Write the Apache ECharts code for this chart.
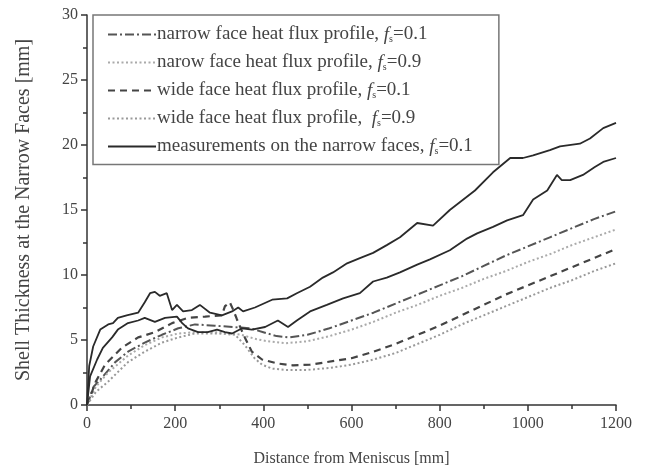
<!DOCTYPE html>
<html>
<head>
<meta charset="utf-8">
<script src="https://cdn.jsdelivr.net/npm/echarts@6/dist/echarts.min.js"></script>
<style>html,body{margin:0;padding:0;background:#fff;}#c{width:649px;height:472px;}</style>
</head>
<body>
<div id="c"></div>
<script>
// ---- data (distance mm, thickness mm) ----
var narrow01 = [[0,0],[15,1.4],[34,2.1],[64,3.3],[93,4.1],[131,4.8],[170,5.4],[207,5.9],[245,6.2],[290,6.1],[330,6.0],[370,5.9],[400,5.6],[430,5.3],[460,5.2],[500,5.4],[550,5.9],[600,6.5],[650,7.1],[700,7.8],[750,8.5],[800,9.2],[850,9.9],[900,10.7],[950,11.5],[1000,12.2],[1050,12.9],[1100,13.6],[1150,14.3],[1200,14.9]];
var narrow09 = [[0,0],[20,1.4],[48,2.5],[93,3.8],[131,4.6],[170,5.2],[207,5.5],[245,5.6],[300,5.6],[350,5.4],[380,5.1],[410,4.9],[450,4.75],[500,4.9],[550,5.3],[600,5.8],[650,6.4],[700,7.1],[750,7.7],[800,8.4],[850,9.0],[900,9.7],[950,10.3],[1000,11.0],[1050,11.6],[1100,12.3],[1150,12.9],[1200,13.5]];
var wide01 = [[0,0],[20,1.8],[41,3.1],[79,4.4],[116,5.2],[154,5.6],[193,6.3],[229,6.7],[268,6.8],[306,6.9],[313,7.6],[324,7.9],[332,7.3],[340,6.6],[350,5.8],[358,5.2],[374,4.1],[397,3.5],[431,3.2],[467,3.05],[506,3.1],[544,3.3],[600,3.6],[650,4.1],[700,4.7],[750,5.4],[800,6.1],[850,6.9],[900,7.7],[950,8.5],[1000,9.2],[1050,9.9],[1100,10.6],[1150,11.3],[1200,12.0]];
var wide09 = [[0,0],[20,1.0],[48,1.8],[93,3.3],[131,4.1],[170,4.8],[207,5.2],[245,5.5],[300,5.5],[336,5.4],[358,4.6],[380,3.6],[397,3.1],[420,2.8],[450,2.7],[500,2.7],[550,2.85],[600,3.1],[650,3.5],[700,4.0],[750,4.7],[800,5.4],[850,6.2],[900,6.9],[950,7.6],[1000,8.3],[1050,9.0],[1100,9.6],[1150,10.3],[1200,10.9]];
var measUpper = [[0,0],[5,3.0],[14,4.5],[30,5.8],[48,6.2],[59,6.3],[70,6.7],[90,6.9],[116,7.1],[131,7.9],[143,8.6],[154,8.7],[165,8.4],[181,8.6],[193,7.3],[204,7.7],[218,7.2],[238,7.3],[256,7.7],[279,7.1],[306,6.9],[329,7.2],[343,7.5],[354,7.2],[381,7.5],[420,8.1],[454,8.2],[476,8.6],[506,9.1],[535,9.8],[558,10.2],[590,10.9],[619,11.3],[649,11.7],[680,12.3],[710,12.9],[749,14.0],[785,13.8],[823,15.0],[880,16.5],[921,17.9],[960,19.0],[989,19.0],[1012,19.2],[1050,19.6],[1073,19.9],[1118,20.1],[1141,20.5],[1171,21.3],[1200,21.7]];
var measLower = [[0,0],[7,2.2],[23,3.5],[36,4.4],[57,5.2],[70,5.8],[93,6.3],[116,6.5],[131,6.7],[154,6.4],[177,6.7],[204,6.8],[216,6.3],[229,5.9],[252,5.6],[274,5.6],[295,5.8],[313,5.6],[329,5.5],[352,5.9],[374,5.8],[404,6.0],[433,6.5],[456,6.0],[476,6.5],[506,7.2],[544,7.7],[581,8.2],[619,8.6],[649,9.5],[680,9.8],[710,10.2],[749,10.8],[778,11.2],[823,11.9],[862,12.8],[885,13.2],[921,13.7],[953,14.2],[989,14.6],[1012,15.8],[1044,16.5],[1066,17.7],[1077,17.3],[1096,17.3],[1125,17.7],[1152,18.3],[1171,18.7],[1200,19.0]];

var legendNames = ['narrow face heat flux profile, ', 'narow face heat flux profile, ', 'wide face heat flux profile, ', 'wide face heat flux profile,  ', 'measurements on the narrow faces, '];
var legendFs = ['0.1', '0.9', '0.1', '0.9', '0.1'];
var xTicks = [0, 200, 400, 600, 800, 1000, 1200];
var yTicks = [0, 5, 10, 15, 20, 25, 30];

var serif = 'Liberation Serif';
var chart = echarts.init(document.getElementById('c'), null, {renderer: 'canvas'});

function mk(idx, data, color, type, width, showLegend) {
  return {
    name: showLegend ? legendNames[idx] : legendNames[idx] + '#',
    type: 'line', data: data, symbol: 'none', smooth: false,
    lineStyle: {color: color, width: width, type: type},
    itemStyle: {color: color},
    emphasis: {disabled: true}, animation: false
  };
}

var fsMap = {};
legendNames.forEach(function (n, i) { fsMap[n] = legendFs[i]; });

chart.setOption({
  backgroundColor: '#fff',
  animation: false,
  grid: {left: 87, right: 33, top: 15, bottom: 67},
  xAxis: {
    type: 'value', min: xTicks[0], max: xTicks[xTicks.length - 1], interval: 200,
    name: 'Distance from Meniscus [mm]', nameLocation: 'middle', nameGap: 46,
    nameTextStyle: {fontFamily: serif, fontSize: 16, color: '#444'},
    axisLine: {lineStyle: {color: '#333', width: 1.5}},
    axisTick: {show: true, inside: false, length: 6, lineStyle: {color: '#333', width: 1.5}},
    minorTick: {show: true, splitNumber: 2, length: 4, lineStyle: {color: '#333', width: 1.5}},
    axisLabel: {fontFamily: serif, fontSize: 16, color: '#444', margin: 11, formatter: function (v) { return String(v); }},
    splitLine: {show: false}
  },
  yAxis: {
    type: 'value', min: yTicks[0], max: yTicks[yTicks.length - 1], interval: 5,
    name: 'Shell Thickness at the Narrow Faces [mm]', nameLocation: 'middle', nameGap: 53,
    nameTextStyle: {fontFamily: serif, fontSize: 20, color: '#444'},
    axisLine: {show: true, lineStyle: {color: '#333', width: 1.5}},
    axisTick: {show: true, inside: false, length: 6, lineStyle: {color: '#333', width: 1.5}},
    minorTick: {show: true, splitNumber: 2, length: 4, lineStyle: {color: '#333', width: 1.5}},
    axisLabel: {fontFamily: serif, fontSize: 16, color: '#444', margin: 9},
    splitLine: {show: false}
  },
  legend: {
    show: true, orient: 'vertical', left: 93, top: 15,
    padding: [10, 26, 8, 14],
    itemWidth: 48, itemHeight: 14, itemGap: 8.5,
    borderColor: '#777', borderWidth: 1.5, backgroundColor: '#fff',
    itemStyle: {opacity: 0, borderWidth: 0},
    data: legendNames,
    formatter: function (name) { return name + '{i|f}{s|s}=' + fsMap[name]; },
    textStyle: {
      fontFamily: serif, fontSize: 19, color: '#444', padding: [0, 0, 0, -4],
      rich: {
        i: {fontFamily: serif, fontStyle: 'italic', fontSize: 19, color: '#444'},
        s: {fontFamily: serif, fontSize: 10, color: '#444', padding: [10, 0, 0, 0]}
      }
    }
  },
  series: [
    mk(0, narrow01, '#555', [9, 3, 2, 3], 2, true),
    mk(1, narrow09, '#aaa', [2, 2.5], 2, true),
    mk(2, wide01, '#444', [7, 5], 2.2, true),
    mk(3, wide09, '#999', [2, 2.5], 2, true),
    mk(4, measUpper, '#2a2a2a', 'solid', 1.8, true),
    mk(4, measLower, '#2a2a2a', 'solid', 1.8, false)
  ]
});
</script>
</body>
</html>
